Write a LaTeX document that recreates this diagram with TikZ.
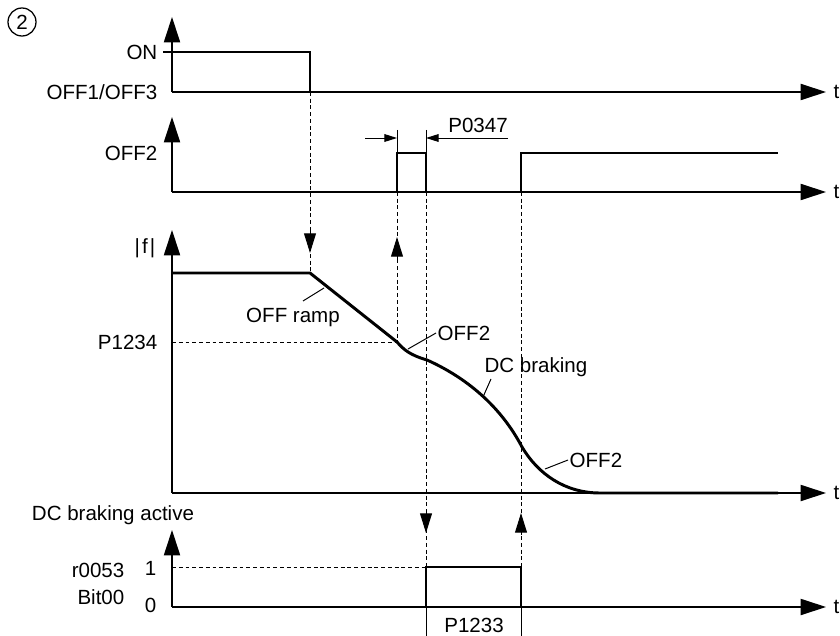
\documentclass[tikz,border=0pt]{standalone}
\usepackage{fontspec}
\setmainfont{Liberation Sans}
\usetikzlibrary{arrows.meta,positioning}

\begin{document}
\begin{tikzpicture}[
  x=0.025cm,y=-0.025cm,
  font=\fontsize{14.6}{16}\selectfont,
  axis/.style={line width=0.9pt,-{Triangle[length=18pt,width=11.5pt]}},
  sig/.style={line width=2.1pt,line join=miter},
  guide/.style={line width=0.7pt,dash pattern=on 2.8pt off 2pt},
  hint/.style={line width=0.7pt,-{Triangle[length=14pt,width=8.5pt]}},
  dim/.style={line width=0.7pt,-{Triangle[length=9pt,width=5.5pt]}},
  lead/.style={line width=0.7pt},
  lbl/.style={inner sep=1pt}
]
\useasboundingbox (0,0) rectangle (840,636);

\node[draw,circle,line width=0.9pt,minimum size=0.7cm,inner sep=0pt] (num) at (22,22) {2};

% ON / OFF1/OFF3
\coordinate (o1) at (172,92);
\coordinate (y1) at (172,17);
\coordinate (x1) at (826,92);
\draw[axis] (o1) -- (y1);
\draw[axis] (o1) -- (x1);
\node[lbl,anchor=west] (t1) at (832,92) {t};
\node[lbl,anchor=east] (on) at (159,52) {ON};
\node[lbl,anchor=east] (off13) at (159,92) {OFF1/OFF3};
\draw[sig] (163,52) -- (310,52) -- (310,92) -- (778,92);

% OFF2
\coordinate (o2) at (172,192);
\coordinate (y2) at (172,117);
\coordinate (x2) at (826,192);
\draw[axis] (o2) -- (y2);
\draw[axis] (o2) -- (x2);
\node[lbl,anchor=west] (t2) at (832,192) {t};
\node[lbl,anchor=east] (off2) at (159,153) {OFF2};
\draw[sig] (172,192) -- (397,192) -- (397,153) -- (426,153) -- (426,192)
  -- (521,192) -- (521,153) -- (778,153);
\draw[lead] (397,130) -- (397,153);
\draw[lead] (426,130) -- (426,153);
\draw[dim] (365,138) -- (397,138);
\draw[dim] (508,138) -- (426,138);
\node[lbl,anchor=base] (p0347) at (478,133) {P0347};

% |f|
\coordinate (o3) at (172,493);
\coordinate (y3) at (172,230);
\coordinate (x3) at (826,493);
\draw[axis] (o3) -- (y3);
\draw[axis] (o3) -- (x3);
\node[lbl,anchor=west] (t3) at (832,493) {t};
\node[lbl,anchor=east] (fabs) at (157,248) {|\kern1.5pt f\kern1.5pt|};
\node[lbl,anchor=east] (p1234) at (159,342) {P1234};
\draw[guide] (172,342) -- (397,342);
\draw[sig] (172,273) -- (310,273) -- (397,342)
  .. controls (404,350) and (410,355) .. (427,360)
  .. controls (465,377) and (500,405) .. (522,447)
  .. controls (538,474) and (565,493) .. (600,493) -- (778,493);
\node[lbl] (offramp) at (293,317) {OFF ramp};
\node[lbl,anchor=west] (off2a) at (436,333) {OFF2};
\node[lbl] (dcbrake) at (536,367) {DC braking};
\node[lbl,anchor=west] (off2b) at (568,460) {OFF2};
\coordinate (ramppt) at (324,288);
\coordinate (kinkpt) at (408,349);
\coordinate (dcpt) at (483,397);
\coordinate (tailpt) at (545,469);
\draw[lead] (ramppt) -- (303,301);
\draw[lead] (kinkpt) -- (off2a.west);
\draw[lead] (dcpt) -- (491,379);
\draw[lead] (tailpt) -- (off2b.west);

% dashed time marks
\draw[guide] (310,92) -- (310,273);
\draw[hint] (310,231) -- (310,253);
\draw[guide] (397,192) -- (397,342);
\draw[hint] (397,259) -- (397,237);
\draw[guide] (426,192) -- (426,607);
\draw[hint] (426,511) -- (426,533);
\draw[guide] (521,192) -- (521,607);
\draw[hint] (521,535) -- (521,513);

% DC braking active
\coordinate (o4) at (172,607);
\coordinate (y4) at (172,530);
\coordinate (x4) at (826,607);
\draw[axis] (o4) -- (y4);
\draw[axis] (o4) -- (x4);
\node[lbl,anchor=west] (t4) at (832,607) {t};
\node[lbl] (dcact) at (113,515) {DC braking active};
\node[lbl,anchor=east] (r0053) at (126,570) {r0053};
\node[lbl,anchor=east] (bit00) at (126,597) {Bit00};
\node[lbl,anchor=east] (one) at (158,568) {1};
\node[lbl,anchor=east] (zero) at (158,605) {0};
\draw[guide] (172,567) -- (426,567);
\draw[sig] (172,607) -- (426,607) -- (426,567) -- (521,567) -- (521,607) -- (778,607);
\draw[lead] (426,607) -- (426,636);
\draw[lead] (521,607) -- (521,636);
\node[lbl] (p1233) at (474,625) {P1233};
\end{tikzpicture}
\end{document}
